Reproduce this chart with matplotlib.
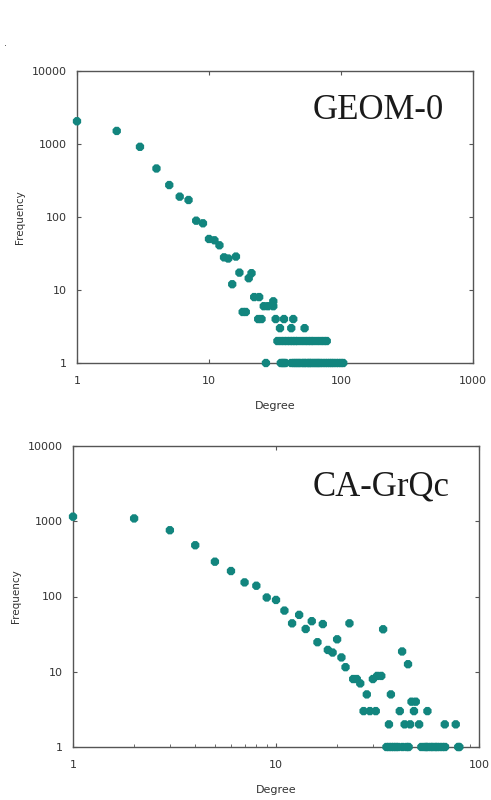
"""Degree distributions of GEOM-0 and CA-GrQc on log-log axes."""

import matplotlib
matplotlib.use("Agg")
import matplotlib.pyplot as plt
from matplotlib.ticker import FixedLocator, FixedFormatter, LogLocator, NullFormatter

# GEOM-0 degree distribution
geom_deg = [1, 2, 3, 4, 5, 6, 7, 8, 9, 10, 11, 12, 13, 14, 16, 15, 17, 20, 21,
            18, 19, 22, 24, 23.6, 25, 26, 28, 30.7, 30.7, 27, 32, 37, 43.5,
            34.5, 42, 53,
            33, 35, 37, 39, 41, 43, 45, 47, 50, 53, 56, 59, 62, 66, 70, 74, 78,
            35, 36, 37, 38, 42, 44, 45, 47, 48, 50, 52, 53, 55, 57, 58, 60, 62,
            64, 66, 68, 70, 73, 76, 79, 82, 85, 88, 92, 96, 100, 104]
geom_freq = [2050, 1510, 915, 462, 274, 190, 171, 89, 82, 50, 48, 41, 28, 27, 28.7, 12, 17.3, 14.5, 17,
             5, 5, 8, 8, 4, 4, 6, 6, 6, 7, 1, 4, 4, 4,
             3, 3, 3,
             2, 2, 2, 2, 2, 2, 2, 2, 2, 2, 2, 2, 2, 2, 2, 2, 2,
             1, 1, 1, 1, 1, 1, 1, 1, 1, 1, 1, 1, 1, 1, 1, 1, 1,
             1, 1, 1, 1, 1, 1, 1, 1, 1, 1, 1, 1, 1, 1]

# CA-GrQc degree distribution
grqc_deg = [1, 2, 3, 4, 5, 6, 7, 8, 9, 10, 11, 12, 13, 14, 15, 16, 17, 18, 19,
            20, 21, 22, 23, 24, 25, 26, 28, 27, 29, 31, 30, 31.5, 33, 33.7, 36,
            36.8, 40.7, 41.8, 44.7, 43, 45.8, 46.5, 48.8, 47.8, 50.7, 55.7,
            67.8, 76.8,
            35, 36, 37, 38, 39, 40, 42, 44, 45, 52, 54, 55, 56, 58, 59, 61, 62,
            64, 66, 68, 79, 80]
grqc_freq = [1150, 1090, 760, 480, 290, 218, 154, 139, 97, 90, 65, 44, 57, 37, 47, 24.7, 43, 19.5, 18,
             27, 15.5, 11.5, 44, 8, 8, 7, 5, 3, 3, 3, 8, 8.8, 8.8, 36.7, 2,
             5, 3, 18.6, 12.6, 2, 2, 4, 4, 3, 2, 3,
             2, 2,
             1, 1, 1, 1, 1, 1, 1, 1, 1, 1, 1, 1, 1, 1, 1, 1, 1,
             1, 1, 1, 1, 1]

y_ticks = [1, 10, 100, 1000, 10000]
y_labels = ["1", "10", "100", "1000", "10000"]

TEAL = "#12857e"
EDGE = "#555555"

fig = plt.figure(figsize=(4.91, 8.0), dpi=100)
fig.text(0.008, 0.943, ".", fontsize=7, color="#444444")


def style_axes(ax, x_max, x_ticks, label_text, label_xy):
    ax.set_xscale("log")
    ax.set_yscale("log")
    ax.set_xlim(1, x_max)
    ax.set_ylim(1, 10000)
    ax.yaxis.set_major_locator(FixedLocator(y_ticks))
    ax.yaxis.set_major_formatter(FixedFormatter(y_labels))
    ax.yaxis.set_minor_locator(FixedLocator([]))
    ax.xaxis.set_major_locator(FixedLocator(x_ticks))
    ax.xaxis.set_major_formatter(FixedFormatter([str(t) for t in x_ticks]))
    ax.xaxis.set_minor_formatter(NullFormatter())
    for s in ax.spines.values():
        s.set_color(EDGE)
        s.set_linewidth(1.0)
    ax.tick_params(which="both", direction="in", top=True, right=True,
                   color=EDGE, labelsize=8, labelcolor="#333333")
    ax.tick_params(axis="x", which="major", pad=9, length=3)
    ax.tick_params(axis="y", which="major", pad=7, length=3)
    ax.tick_params(which="minor", length=2)
    ax.set_xlabel("Degree", fontsize=8, color="#333333", labelpad=11)
    ax.set_ylabel("Frequency", fontsize=7.5, color="#333333", labelpad=5)
    ax.text(label_xy[0], label_xy[1], label_text, transform=ax.transAxes,
            family="Liberation Serif", fontsize=25, color="#1a1a1a",
            ha="center", va="center")


ax1 = fig.add_axes([0.1568, 0.54625, 0.8065, 0.365])
ax1.scatter(geom_deg, geom_freq, s=42, marker="8", color=TEAL,
            edgecolors="none", clip_on=False, zorder=3)
style_axes(ax1, 1000, [1, 10, 100, 1000], "GEOM-0", (0.76, 0.865))
ax1.xaxis.set_minor_locator(FixedLocator([]))

ax2 = fig.add_axes([0.1487, 0.06625, 0.8269, 0.37625])
ax2.scatter(grqc_deg, grqc_freq, s=42, marker="8", color=TEAL,
            edgecolors="none", clip_on=False, zorder=3)
style_axes(ax2, 100, [1, 10, 100], "CA-GrQc", (0.76, 0.865))
ax2.xaxis.set_minor_locator(LogLocator(base=10, subs=range(2, 10)))
ax2.tick_params(axis="x", which="minor", top=False)

fig.savefig("out.png", dpi=100)
